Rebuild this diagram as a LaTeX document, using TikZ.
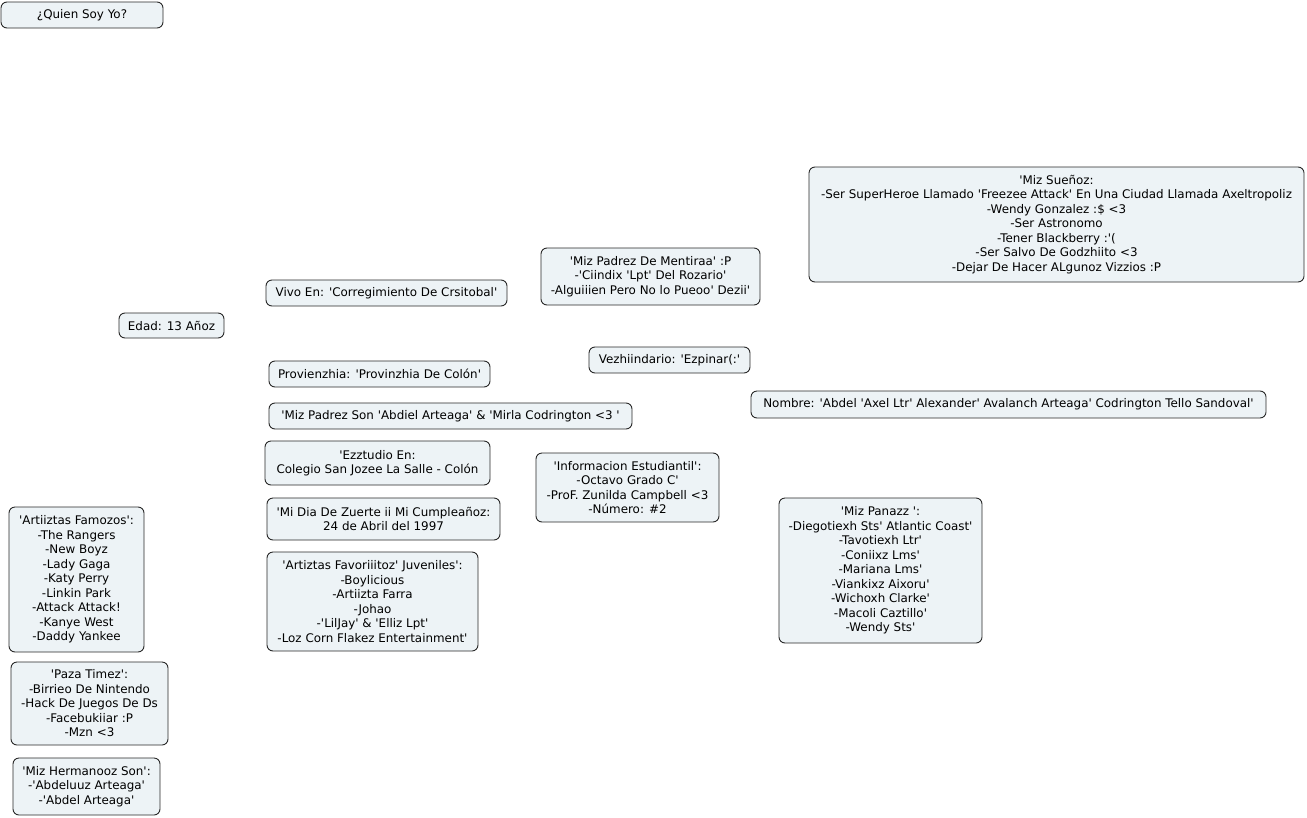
\documentclass[tikz,border=0pt]{standalone}
\usepackage{fontspec}
\setmainfont{DejaVu Sans}[Ligatures=TeXOff]
\definecolor{boxfill}{RGB}{237,243,246}
\definecolor{boxline}{RGB}{40,40,40}
\tikzset{
  box/.style={draw=boxline, fill=boxfill, rounded corners=6pt, line width=0.9pt,
    align=center, inner sep=2pt, font=\fontsize{11.9}{14.5}\selectfont},
}
\begin{document}
\begin{tikzpicture}[x=1pt, y=-1pt]
\useasboundingbox (0,0) rectangle (1307,817);

\node[box, minimum width=162, minimum height=26] (quien) at (82,15) {¿Quien Soy Yo?};

\node[box, minimum width=495, minimum height=115] (suenos) at (1056.5,224.5) {'Miz Sueñoz:\\-Ser SuperHeroe Llamado 'Freezee Attack' En Una Ciudad Llamada Axeltropoliz\\-Wendy Gonzalez :\$ <3\\-Ser Astronomo\\-Tener Blackberry :'(\\-Ser Salvo De Godzhiito <3\\-Dejar De Hacer ALgunoz Vizzios :P};
\node[box, minimum width=219, minimum height=57] (mentira) at (650.5,276.5) {'Miz Padrez De Mentiraa' :P\\-'Ciindix 'Lpt' Del Rozario'\\-Alguiiien Pero No lo Pueoo' Dezii'};
\node[box, minimum width=241, minimum height=26] (vivo) at (386.5,293) {Vivo En: 'Corregimiento De Crsitobal'};
\node[box, minimum width=105, minimum height=25] (edad) at (171.5,325.5) {Edad: 13 Añoz};
\node[box, minimum width=161, minimum height=26] (vecindario) at (669.5,360) {Vezhiindario: 'Ezpinar(:'};
\node[box, minimum width=221, minimum height=26] (provincia) at (379.5,374) {Provienzhia: 'Provinzhia De Colón'};
\node[box, minimum width=363, minimum height=26] (padres) at (450.5,416) {'Miz Padrez Son 'Abdiel Arteaga' \& 'Mirla Codrington <3 '};
\node[box, minimum width=515, minimum height=27] (nombre) at (1008.5,404.5) {Nombre: 'Abdel 'Axel Ltr' Alexander' Avalanch Arteaga' Codrington Tello Sandoval'};
\node[box, minimum width=225, minimum height=44] (estudio) at (377.5,463) {'Ezztudio En:\\Colegio San Jozee La Salle - Colón};
\node[box, minimum width=183, minimum height=69] (info) at (627.5,487.5) {'Informacion Estudiantil':\\-Octavo Grado C'\\-ProF. Zunilda Campbell <3\\-Número: \#2};
\node[box, minimum width=233, minimum height=42] (cumple) at (383.5,519) {'Mi Dia De Zuerte ii Mi Cumpleañoz:\\24 de Abril del 1997};
\node[box, minimum width=211, minimum height=99] (favoritos) at (372.5,601.5) {'Artiztas Favoriiitoz' Juveniles':\\-Boylicious\\-Artiizta Farra\\-Johao\\-'LilJay' \& 'Elliz Lpt'\\-Loz Corn Flakez Entertainment'};
\node[box, minimum width=203, minimum height=145] (panas) at (880.5,570.5) {'Miz Panazz ':\\-Diegotiexh Sts' Atlantic Coast'\\-Tavotiexh Ltr'\\-Coniixz Lms'\\-Mariana Lms'\\-Viankixz Aixoru'\\-Wichoxh Clarke'\\-Macoli Caztillo'\\-Wendy Sts'};
\node[box, minimum width=135, minimum height=145] (famosos) at (76.5,579.5) {'Artiiztas Famozos':\\-The Rangers\\-New Boyz\\-Lady Gaga\\-Katy Perry\\-Linkin Park\\-Attack Attack!\\-Kanye West\\-Daddy Yankee};
\node[box, minimum width=157, minimum height=83] (pasatiempos) at (89.5,703.5) {'Paza Timez':\\-Birrieo De Nintendo\\-Hack De Juegos De Ds\\-Facebukiiar :P\\-Mzn <3};
\node[box, minimum width=147, minimum height=57] (hermanos) at (86.5,786.5) {'Miz Hermanooz Son':\\-'Abdeluuz Arteaga'\\-'Abdel Arteaga'};
\end{tikzpicture}
\end{document}
